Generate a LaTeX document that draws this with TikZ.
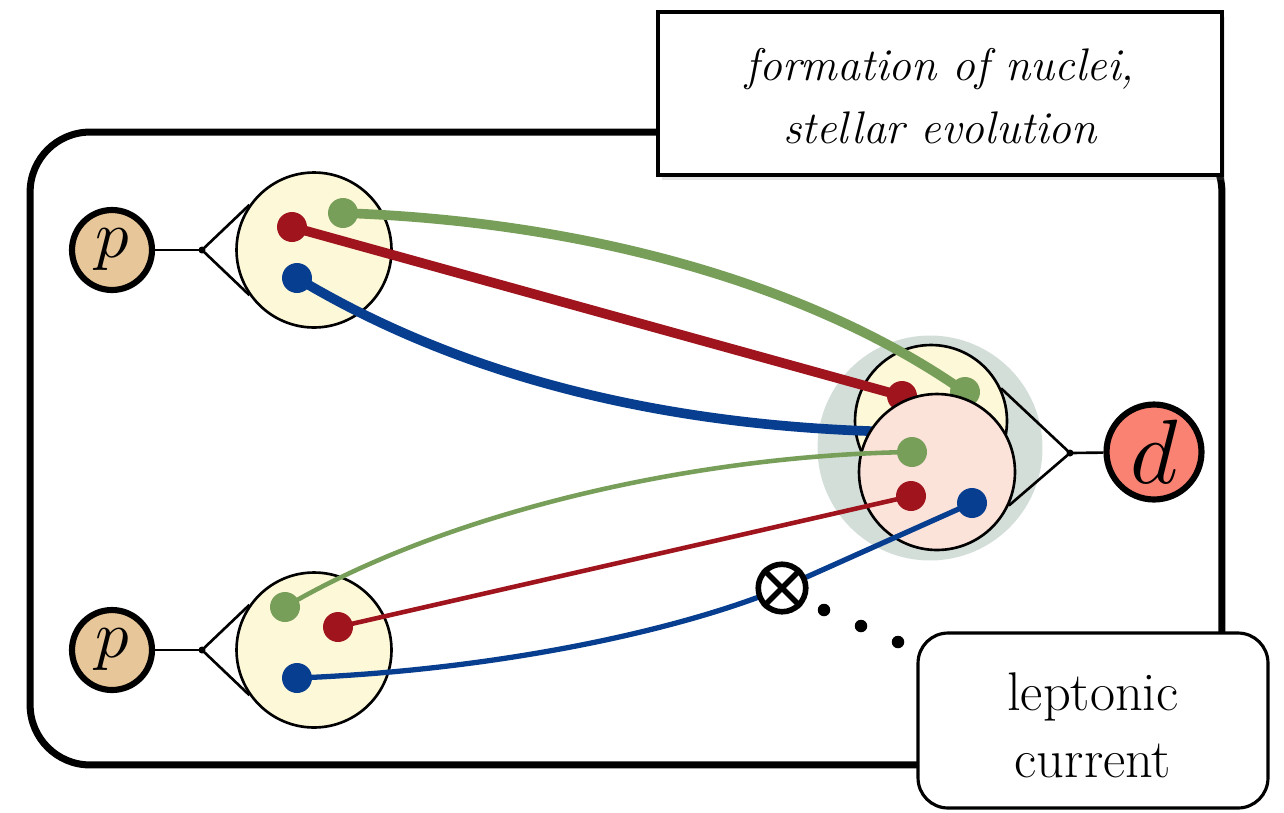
\documentclass[tikz,border=0pt]{standalone}
\usepackage{graphicx}
\usepackage{fontspec}
\usetikzlibrary{calc,shadows}
\definecolor{qgreen}{HTML}{789F5A}
\definecolor{qred}{HTML}{A0141E}
\definecolor{qblue}{HTML}{073E8F}
\definecolor{nyellow}{HTML}{FDF8D8}
\definecolor{npink}{HTML}{FCE3DA}
\definecolor{halocol}{HTML}{D3DED9}
\definecolor{pfill}{HTML}{E7C699}
\definecolor{dfill}{HTML}{FA8273}
\pgfdeclarelayer{l0}
\pgfdeclarelayer{l1}
\pgfdeclarelayer{l2}
\pgfdeclarelayer{l3}
\pgfdeclarelayer{l4}
\pgfdeclarelayer{l5}
\pgfdeclarelayer{l6}
\pgfsetlayers{l0,l1,l2,l3,l4,l5,main,l6}
\begin{document}
\begin{tikzpicture}[x=0.02cm,y=-0.02cm,
  framebox/.style={draw, line width=4pt, rounded corners=1.2cm, minimum width=23.84cm, minimum height=12.66cm, inner sep=0pt},
  hadron/.style={circle, draw, line width=3.5pt, inner sep=0pt, minimum size=1.6cm},
  nucleon/.style={circle, draw, line width=1.5pt, inner sep=0pt, minimum size=3.1cm},
  quark/.style={circle, inner sep=0pt, minimum size=0.6cm},
  vtx/.style={circle, fill=black, inner sep=0pt, minimum size=0.14cm},
  vline/.style={line width=1.5pt},
  thickq/.style={line width=5.5pt},
  thinq/.style={line width=2.6pt},
  labelbox/.style={draw, line width=1.8pt, fill=white, inner sep=0pt},
  ellipsisdot/.style={circle, fill=black, inner sep=0pt, minimum size=0.25cm}
]
\useasboundingbox (0,0) rectangle (1284,812);

% outer frame
\begin{pgfonlayer}{l0}
\node[framebox] (frame) at (626,448.5) {};
\end{pgfonlayer}

% hadrons, nucleons, vertices
\begin{pgfonlayer}{l1}
\node[circle, fill=halocol, inner sep=0pt, minimum size=4.5cm] (halo) at (930,448) {};
\node[hadron, fill=pfill] (p1) at (112,250) {\scalebox{3.8}{$p$}};
\node[hadron, fill=pfill] (p2) at (112,650) {\scalebox{3.8}{$p$}};
\node[hadron, fill=dfill, minimum size=1.9cm] (d) at (1154,452) {\scalebox{5.2}{$d$}};
\node[vtx] (v1) at (202,250) {};
\node[vtx] (v2) at (202,650) {};
\node[vtx] (vd) at (1070,453) {};
\node[nucleon, fill=nyellow] (n1) at (314,250) {};
\node[nucleon, fill=nyellow] (n2) at (314,650) {};
\node[nucleon, fill=nyellow, minimum size=3.04cm] (n3) at (931,421) {};
\draw[vline] (p1) -- (v1.center);
\draw[vline] (p2) -- (v2.center);
\draw[vline] (d) -- (vd.center);
\draw[vline] (v1.center) -- (n1.145);
\draw[vline] (v1.center) -- (n1.215);
\draw[vline] (v2.center) -- (n2.145);
\draw[vline] (v2.center) -- (n2.215);
\draw[vline] (vd.center) -- (n3.25);
\end{pgfonlayer}

% quarks of the upper proton and of the first nucleon
\begin{pgfonlayer}{l3}
\node[quark, fill=qgreen] (ag) at (343,213) {};
\node[quark, fill=qred] (ar) at (292,227) {};
\node[quark, fill=qblue] (ab) at (297,278) {};
\node[quark, fill=qred] (cr) at (902,396) {};
\node[quark, fill=qgreen] (cg) at (965,392) {};
\coordinate (cb) at (905,432);
\end{pgfonlayer}

% upper lines
\begin{pgfonlayer}{l2}
\draw[thickq, qgreen] (ag.center) .. controls (600,222) and (820,290) .. (cg.center);
\draw[thickq, qred] (ar.center) -- (cr.center);
\draw[thickq, qblue] (ab.center) .. controls (450,370) and (650,428) .. (cb);
\end{pgfonlayer}

% second nucleon in the deuteron
\begin{pgfonlayer}{l4}
\node[nucleon, fill=npink, minimum size=3.12cm] (n4) at (937,472) {};
\draw[vline] (vd.center) -- (n4.-25);
\end{pgfonlayer}

% quarks of the lower proton and of the second nucleon
\node[quark, fill=qgreen] (bg) at (285,607) {};
\node[quark, fill=qred] (br) at (338,627) {};
\node[quark, fill=qblue] (bb) at (297,678) {};
\node[quark, fill=qgreen] (dg) at (912,452) {};
\node[quark, fill=qred] (dr) at (911,496) {};
\node[quark, fill=qblue] (db) at (972,503) {};
\node[circle, draw, line width=3.2pt, fill=white, inner sep=0pt, minimum size=0.95cm] (ot) at (782,588) {};
\draw[line width=3.2pt] (ot.north west) -- (ot.south east) (ot.north east) -- (ot.south west);
\node[ellipsisdot] (e1) at (824,610) {};
\node[ellipsisdot] (e2) at (861,626) {};
\node[ellipsisdot] (e3) at (898,642) {};

% lower lines
\begin{pgfonlayer}{l5}
\draw[thinq, qgreen] (bg.center) .. controls (450,510) and (700,455) .. (dg.center);
\draw[thinq, qred] (br.center) -- (dr.center);
\draw[line width=3pt, qblue] (bb.center) .. controls (500,670) and (680,630) .. (ot.center) -- (db.center);
\end{pgfonlayer}

% labels
\begin{pgfonlayer}{l6}
\node[labelbox, minimum width=11.28cm, minimum height=3.26cm,
  drop shadow={opacity=0.2, shadow xshift=2pt, shadow yshift=-3pt}] (top) at (940,93.5) {};
\node[font=\fontsize{26}{36}\selectfont\itshape, align=center] (toptext) at (940,96) {formation of nuclei,\\stellar evolution};
\node[labelbox, rounded corners=0.6cm, minimum width=7cm, minimum height=3.5cm] (lep) at (1093,720.5) {};
\node[font=\fontsize{31}{38}\selectfont, align=center] (leptext) at (1093,725) {leptonic\\current};
\end{pgfonlayer}
\end{tikzpicture}
\end{document}
